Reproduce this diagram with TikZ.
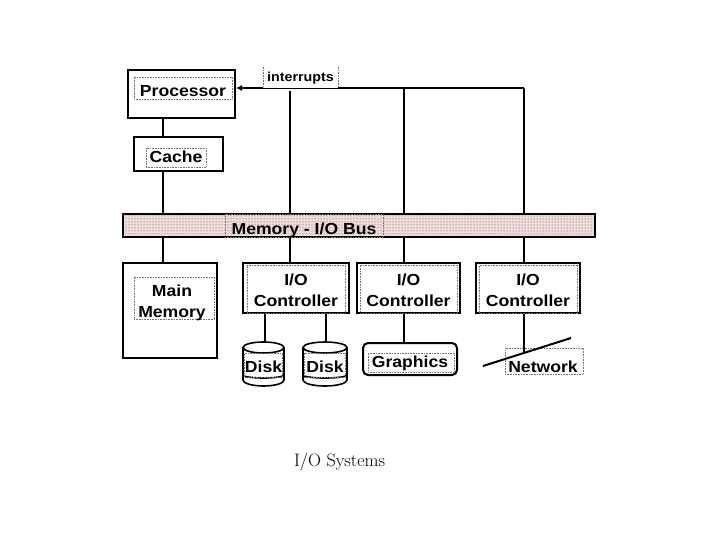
\documentclass[tikz,border=0pt]{standalone}
\usepackage{fontspec}
\newfontfamily\lsans[FakeStretch=1.1]{Liberation Sans}
\usetikzlibrary{patterns,arrows.meta}
\definecolor{busdot}{RGB}{130,50,50}
\definecolor{busbg}{RGB}{238,222,222}
\begin{document}
\begin{tikzpicture}[x=1pt,y=-1pt,
  box/.style={draw,line width=2pt,inner sep=0pt},
  frame/.style={draw=black!55,densely dotted,line width=0.6pt,inner sep=0pt},
  txt/.style={anchor=base,inner sep=0pt,font=\lsans\bfseries\fontsize{16}{19}\selectfont},
  smalltxt/.style={anchor=base,inner sep=0pt,font=\lsans\bfseries\fontsize{13}{15}\selectfont},
  wire/.style={line width=2pt},
  disk/.style={line width=1.6pt}]
\useasboundingbox (0,0) rectangle (720,540);

% Processor and cache
\node[box,minimum width=107pt,minimum height=48pt] (proc) at (181.5,94) {};
\node[frame,minimum width=98pt,minimum height=22pt] (procl) at (183,88) {};
\node[txt] (proct) at (183,96.5) {Processor};

\node[box,minimum width=89pt,minimum height=34pt] (cache) at (178.5,154) {};
\node[frame,minimum width=60pt,minimum height=19pt] (cachel) at (176,157.5) {};
\node[txt] (cachet) at (176,163) {Cache};

% Bus
\node[box,preaction={fill=busbg},pattern=dots,pattern color=busdot,
      minimum width=472pt,minimum height=23pt] (bus) at (359,225.5) {};
\node[frame,minimum width=158pt,minimum height=23pt] (busl) at (304,225.5) {};
\node[txt] (bust) at (304,235) {Memory - I/O Bus};

% Interrupt line
\coordinate (xa) at (163,0);
\coordinate (xb) at (290,0);
\coordinate (xc) at (404,0);
\coordinate (xd) at (524,0);
\coordinate (irt) at (524,88);
\coordinate (ilabR) at (338,88);
\coordinate (ilabL) at (263,88);
\coordinate (bstart) at (290,91);
\node[inner sep=0pt,minimum width=75pt,minimum height=21pt] (intl) at (300.5,77.5) {};
\draw[frame] (intl.north west) -- (intl.south west) (intl.north east) -- (intl.south east);
\node[smalltxt] (intt) at (300.5,82) {interrupts};
\draw[wire] (irt) -- (ilabR);
\draw[line width=0.8pt] (ilabR) -- (ilabL);
\draw[wire,-{Latex[length=6pt,width=6pt]}] (ilabL) -- (proc.east |- ilabL);
\draw[wire] (bstart) -- (bus.north -| bstart);
\draw[wire] (irt -| xc) -- (bus.north -| xc);
\draw[wire] (irt) -- (bus.north -| irt);

% Processor - cache - bus
\draw[wire] (proc.south -| xa) -- (cache.north -| xa);
\draw[wire] (cache.south -| xa) -- (bus.north -| xa);

% Main memory
\node[box,minimum width=94pt,minimum height=95pt] (mem) at (170,310.5) {};
\node[frame,minimum width=80pt,minimum height=42pt] (meml) at (174,298) {};
\node[txt] (memt1) at (172,296) {Main};
\node[txt] (memt2) at (172,317) {Memory};
\draw[wire] (bus.south -| xa) -- (mem.north -| xa);

% Controllers
\node[box,minimum width=106pt,minimum height=50pt] (c1) at (296,288) {};
\node[frame,minimum width=98pt,minimum height=48pt] (c1l) at (296,289) {};
\node[txt] (c1a) at (296,285) {I/O};
\node[txt] (c1b) at (296,306) {Controller};

\node[box,minimum width=103pt,minimum height=50pt] (c2) at (408.5,288) {};
\node[frame,minimum width=97pt,minimum height=48pt] (c2l) at (408.5,289) {};
\node[txt] (c2a) at (408.5,285) {I/O};
\node[txt] (c2b) at (408.5,306) {Controller};

\node[box,minimum width=104pt,minimum height=50pt] (c3) at (528,288) {};
\node[frame,minimum width=98pt,minimum height=48pt] (c3l) at (528.5,289) {};
\node[txt] (c3a) at (528,285) {I/O};
\node[txt] (c3b) at (528,306) {Controller};

\draw[wire] (bus.south -| xb) -- (c1.north -| xb);
\draw[wire] (bus.south -| xc) -- (c2.north -| xc);
\draw[wire] (bus.south -| xd) -- (c3.north -| xd);

% Disks
\node[inner sep=0pt,minimum width=41pt,minimum height=44pt] (d1) at (263.5,364) {};
\node[inner sep=0pt,minimum width=44pt,minimum height=44pt] (d2) at (325,364) {};
\foreach \L/\R in {243/284,303/347}{
  \pgfmathsetmacro{\cx}{(\L+\R)/2}
  \pgfmathsetmacro{\rx}{(\R-\L)/2}
  \draw[disk,fill=white] (\cx,347.5) ellipse [x radius=\rx pt,y radius=5.5pt];
  \draw[disk] (\L,347.5) -- (\L,380) arc[start angle=180,end angle=360,x radius=\rx pt,y radius=6pt] -- (\R,347.5);
  \draw[disk] (\L,375) arc[start angle=180,end angle=360,x radius=\rx pt,y radius=3pt];
  \node[frame,minimum width=\R-\L-3,minimum height=24pt] at (\cx,365) {};
  \node[txt] at (\cx,372) {Disk};
}
\coordinate (xe) at (265,0);
\coordinate (xf) at (326,0);
\draw[wire] (c1.south -| xe) -- (d1.north -| xe);
\draw[wire] (c1.south -| xf) -- (d2.north -| xf);

% Graphics
\node[box,rounded corners=5pt,minimum width=94pt,minimum height=32pt] (gr) at (410,359) {};
\node[frame,minimum width=86pt,minimum height=19pt] (grl) at (411,362.5) {};
\node[txt] (grt) at (410,367) {Graphics};
\draw[wire] (c2.south -| xc) -- (gr.north -| xc);

% Network
\coordinate (n1) at (483,366);
\coordinate (n2) at (571,338);
\coordinate (nj) at (524,353);
\node[frame,minimum width=78pt,minimum height=26pt] (netl) at (544,361) {};
\node[txt] (nett) at (543,372) {Network};
\draw[wire] (n1) -- (n2);
\draw[wire] (c3.south -| xd) -- (nj);

% Caption
\node[anchor=base,inner sep=0pt,font=\fontsize{18}{20}\selectfont] (cap) at (339.5,466) {I/O Systems};
\end{tikzpicture}
\end{document}
